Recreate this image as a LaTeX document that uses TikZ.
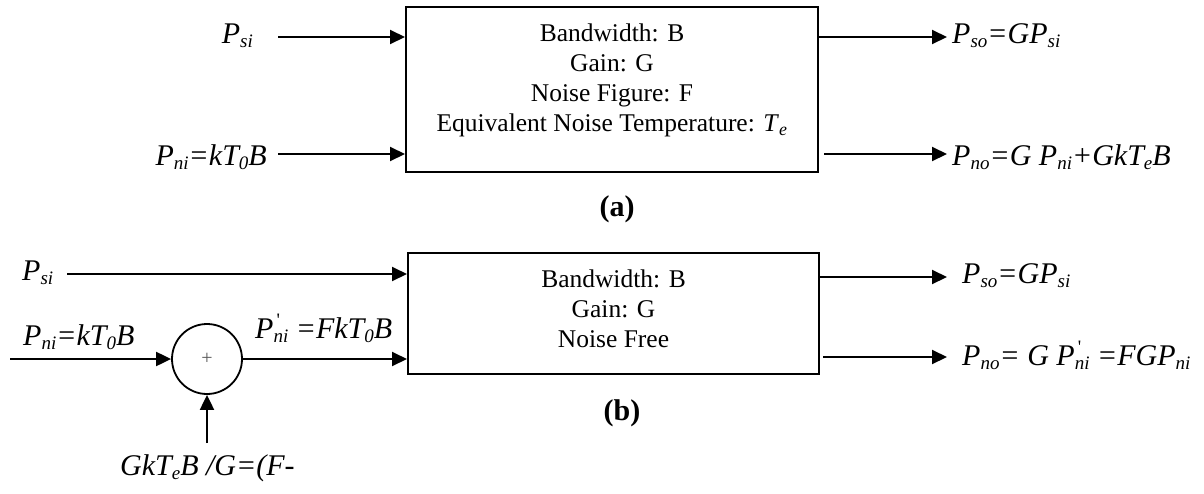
\documentclass[tikz,border=0pt]{standalone}
\usepackage{fontspec}
\setmainfont{Liberation Serif}
\usetikzlibrary{arrows.meta,positioning}
\newcommand{\bigtxt}{\fontsize{25.5}{30}\selectfont}
\newcommand{\lbltxt}{\fontsize{30}{34}\selectfont}
\newcommand{\lo}[1]{\raisebox{-4pt}{\fontsize{19}{19}\selectfont #1}}
\newcommand{\lohi}[1]{\raisebox{-4pt}{\fontsize{19}{19}\selectfont\shortstack[l]{\upshape\kern3pt\textquotesingle\\#1}}}

\tikzset{
  sig/.style={line width=2pt,-{Triangle[length=15pt,width=14pt]}},
  blk/.style={draw,line width=2pt,inner sep=0pt},
  blktext/.style={align=center,inner sep=0pt,font=\bigtxt},
  lbl/.style={inner sep=0pt,font=\lbltxt\itshape},
  captxt/.style={inner sep=0pt,anchor=base,font=\lbltxt\bfseries},
}

\begin{document}
\begin{tikzpicture}[x=1pt,y=-1pt]
\useasboundingbox (0,0) rectangle (1204,493);
% (a) noisy amplifier
\node[blk,minimum width=412pt,minimum height=165pt] (boxa) at (612,89.5) {};
\node[blktext,below=17.5pt of boxa.north] (txta) {Bandwidth: B\\Gain: G\\Noise Figure: F\\Equivalent Noise Temperature: \textit{T}\textsubscript{\itshape e}};
\node[lbl,anchor=base east] (psia) at (253,43) {P\lo{si}};
\node[lbl,anchor=base east] (pnia) at (267,165) {P\lo{ni}=kT\lo{0}B};
\coordinate (psiain) at (278,37);
\coordinate (pniain) at (278,154);
\draw[sig] (psiain) -- (psiain -| boxa.west);
\draw[sig] (pniain) -- (pniain -| boxa.west);
\node[lbl,anchor=base west] (psoa) at (952,43) {P\lo{so}=GP\lo{si}};
\node[lbl,anchor=base west] (pnoa) at (952,165) {P\lo{no}=G P\lo{ni}+GkT\lo{e}B};
\coordinate (psoaout) at (947,37);
\coordinate (pnoaout) at (947,154);
\draw[sig] (boxa.east |- psoaout) -- (psoaout);
\draw[sig,shorten <=5pt] (boxa.east |- pnoaout) -- (pnoaout);
\node[captxt] (capa) at (617,216) {(a)};

% (b) noise free amplifier
\node[blk,minimum width=411pt,minimum height=121pt] (boxb) at (613.5,313.5) {};
\node[blktext,below=17.5pt of boxb.north] (txtb) {Bandwidth: B\\Gain: G\\Noise Free};
\node[lbl,anchor=base west] (psib) at (22,280) {P\lo{si}};
\coordinate (psibin) at (67,274);
\draw[sig] (psibin) -- (psibin -| boxb.west);
\node[lbl,anchor=base west] (pnib) at (23,345) {P\lo{ni}=kT\lo{0}B};
\node[draw,circle,line width=1.8pt,minimum size=70pt,inner sep=0pt,font=\fontsize{20}{20}\selectfont,text=black!65] (sum) at (207,359) {+};
\coordinate (pnibin) at (10,359);
\draw[sig] (pnibin) -- (sum.west);
\draw[sig] (sum.east) -- (sum.east -| boxb.west);
\node[lbl,anchor=base west] (pnip) at (255,338) {P\lohi{ni} =FkT\lo{0}B};
\coordinate (tebin) at (207,443);
\draw[sig] (tebin) -- (sum.south);
\node[lbl,anchor=base west] (teb) at (120,475) {GkT\lo{e}B /G=(F-};
\node[lbl,anchor=base west] (psob) at (962,283) {P\lo{so}=GP\lo{si}};
\node[lbl,anchor=base west] (pnob) at (962,365) {P\lo{no}= G P\lohi{ni} =FGP\lo{ni}};
\coordinate (psobout) at (947,277);
\coordinate (pnobout) at (947,357);
\draw[sig] (boxb.east |- psobout) -- (psobout);
\draw[sig,shorten <=3pt] (boxb.east |- pnobout) -- (pnobout);
\node[captxt] (capb) at (622,420) {(b)};
\end{tikzpicture}
\end{document}
